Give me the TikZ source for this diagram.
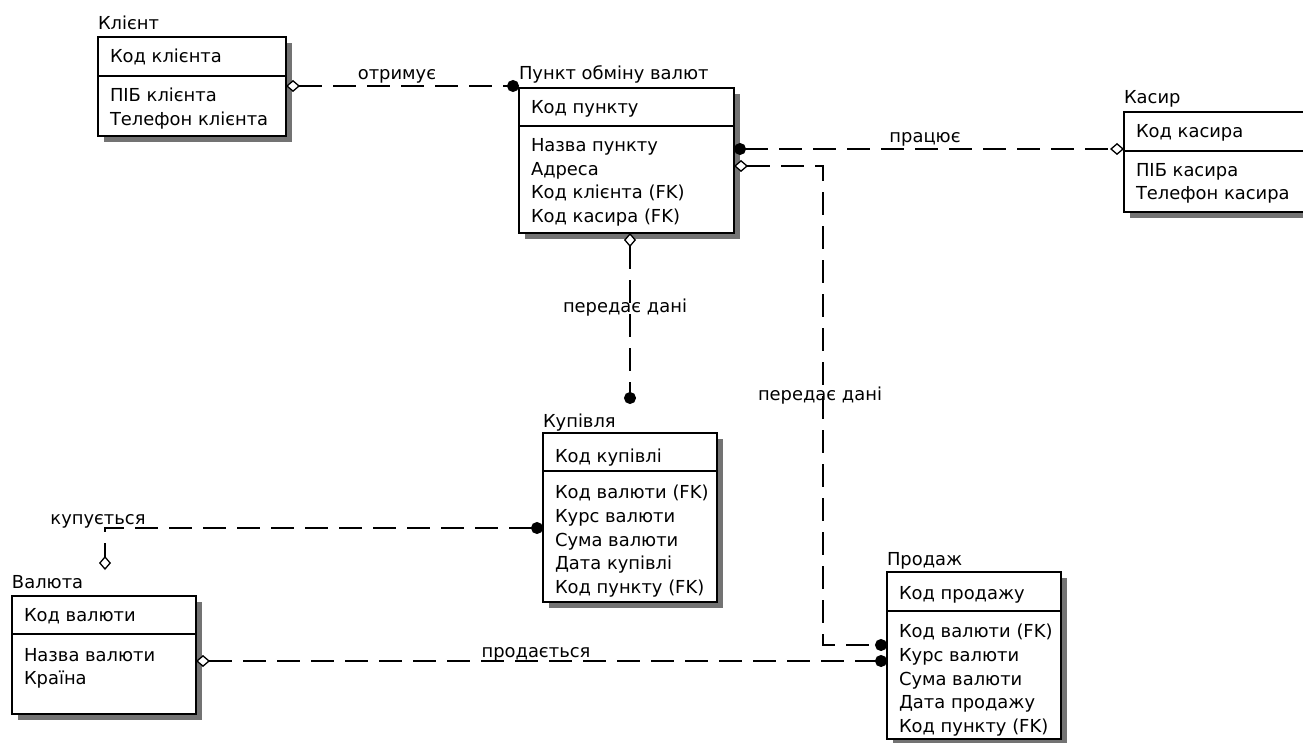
\documentclass[tikz,border=0pt]{standalone}
\usepackage{fontspec}
\setmainfont{DejaVu Sans}
\usetikzlibrary{arrows.meta,shadows}

\begin{document}
\begin{tikzpicture}[x=1pt,y=-1pt,
  every node/.style={font=\fontsize{17.9}{22}\selectfont, inner sep=0pt, outer sep=0pt},
  ebox/.style={draw, line width=1.3pt, fill=white, anchor=north west,
    drop shadow={shadow xshift=6pt, shadow yshift=-6pt, fill=black!55, opacity=1}},
  sep/.style={line width=1.3pt},
  fld/.style={anchor=base west},
  lbl/.style={anchor=base},
  rel/.style={line width=1.3pt, dash pattern=on 23pt off 11pt},
  erdia/.tip={Diamond[fill=white, length=14pt, width=12pt]},
  erdot/.tip={Circle[length=12pt]}
]
\clip (0,0) rectangle (1303,743);

% ---------- entity boxes ----------
\node[ebox, minimum width=188pt, minimum height=99pt]  (cl) at (98,37)   {};
\node[ebox, minimum width=215pt, minimum height=145pt] (pu) at (519,88)  {};
\node[ebox, minimum width=200pt, minimum height=100pt] (ka) at (1124,112) {};
\node[ebox, minimum width=174pt, minimum height=169pt] (ku) at (543,433) {};
\node[ebox, minimum width=184pt, minimum height=118pt] (va) at (12,596)  {};
\node[ebox, minimum width=174pt, minimum height=167pt] (pr) at (887,572) {};

% key / attribute dividers
\draw[sep] (cl.west |- 0,76)  -- (cl.east |- 0,76);
\draw[sep] (pu.west |- 0,126) -- (pu.east |- 0,126);
\draw[sep] (ka.west |- 0,151) -- (ka.east |- 0,151);
\draw[sep] (ku.west |- 0,471) -- (ku.east |- 0,471);
\draw[sep] (va.west |- 0,634) -- (va.east |- 0,634);
\draw[sep] (pr.west |- 0,611) -- (pr.east |- 0,611);

% ---------- entity titles and fields ----------
\node[fld] (cl-t)  at (98,30)  {Клієнт};
\node[fld] (cl-k)  at (110,63) {Код клієнта};
\node[fld] (cl-a1) at (110,102) {ПІБ клієнта};
\node[fld] (cl-a2) at (110,126) {Телефон клієнта};

\node[fld] (pu-t)  at (519,80)  {Пункт обміну валют};
\node[fld] (pu-k)  at (531,114) {Код пункту};
\node[fld] (pu-a1) at (531,152) {Назва пункту};
\node[fld] (pu-a2) at (531,175.5) {Адреса};
\node[fld] (pu-a3) at (531,199) {Код клієнта (FK)};
\node[fld] (pu-a4) at (531,222.5) {Код касира (FK)};

\node[fld] (ka-t)  at (1124,104) {Касир};
\node[fld] (ka-k)  at (1136,138) {Код касира};
\node[fld] (ka-a1) at (1136,177) {ПІБ касира};
\node[fld] (ka-a2) at (1136,200) {Телефон касира};

\node[fld] (ku-t)  at (543,427) {Купівля};
\node[fld] (ku-k)  at (555,462) {Код купівлі};
\node[fld] (ku-a1) at (555,498) {Код валюти (FK)};
\node[fld] (ku-a2) at (555,522) {Курс валюти};
\node[fld] (ku-a3) at (555,546) {Сума валюти};
\node[fld] (ku-a4) at (555,569) {Дата купівлі};
\node[fld] (ku-a5) at (555,593) {Код пункту (FK)};

\node[fld] (va-t)  at (12,588) {Валюта};
\node[fld] (va-k)  at (24,621) {Код валюти};
\node[fld] (va-a1) at (24,661) {Назва валюти};
\node[fld] (va-a2) at (24,684) {Країна};

\node[fld] (pr-t)  at (887,565) {Продаж};
\node[fld] (pr-k)  at (899,599) {Код продажу};
\node[fld] (pr-a1) at (899,637) {Код валюти (FK)};
\node[fld] (pr-a2) at (899,661) {Курс валюти};
\node[fld] (pr-a3) at (899,685) {Сума валюти};
\node[fld] (pr-a4) at (899,708) {Дата продажу};
\node[fld] (pr-a5) at (899,732) {Код пункту (FK)};

% ---------- relationships ----------
\coordinate (bend3) at (823,645);
\coordinate (ku-end) at (630,404);
\coordinate (bend5) at (105,528);
\coordinate (va-end) at (105,570);

\draw[rel, {erdia}-{erdot}] (cl.east |- 0,86) -- (pu.west |- 0,86);
\draw[rel, {erdot}-{erdia}] (pu.east |- 0,149) -- (ka.west |- 0,149);
\draw[rel, {erdia}-{erdot}] (pu.east |- 0,166) -| (bend3) -- (pr.west |- 0,645);
\draw[rel, {erdia}-{erdot}] (pu.south -| 630,0) -- (ku-end);
\draw[rel, {erdot}-{erdia}] (ku.west |- 0,528) -- (bend5) -- (va-end);
\draw[rel, {erdia}-{erdot}] (va.east |- 0,661) -- (pr.west |- 0,661);

% relationship names
\node[lbl] (r1) at (397,80)  {отримує};
\node[lbl] (r2) at (925,143) {працює};
\node[lbl] (r3) at (820,400) {передає дані};
\node[lbl] (r4) at (625,312) {передає дані};
\node[lbl] (r5) at (98,524)  {купується};
\node[lbl] (r6) at (536,657) {продається};
\end{tikzpicture}
\end{document}
